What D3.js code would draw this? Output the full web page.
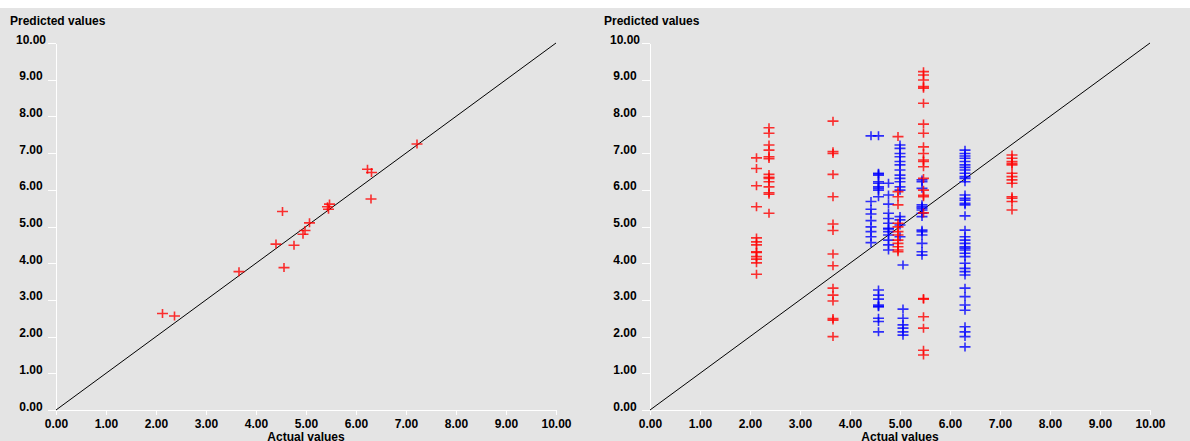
<!DOCTYPE html>
<html><head><meta charset="utf-8">
<script src="https://cdn.jsdelivr.net/npm/d3@7"></script>
<style>
html,body{margin:0;padding:0;background:#fff;}
svg{display:block;}
text{font-family:"Liberation Sans",Arial,sans-serif;font-weight:bold;font-size:12px;fill:#000;}
</style></head>
<body>
<svg id="c" width="1190" height="441"></svg>
<script>
// ---- data ----
const ticks = [0,1,2,3,4,5,6,7,8,9,10];
const tickLabels = ticks.map(t => t.toFixed(2));
const yTitle = "Predicted values";
const xTitle = "Actual values";

// Left panel: single series (actual, predicted)
const leftActual = [2.13, 2.37, 3.66, 4.40, 4.53, 4.56, 4.76, 4.94, 4.98, 5.07, 5.43, 5.47, 5.45, 6.23, 6.31, 6.30, 7.22];
const leftPred   = [2.63, 2.56, 3.77, 4.52, 5.41, 3.88, 4.49, 4.79, 4.89, 5.10, 5.54, 5.61, 5.47, 6.56, 6.47, 5.75, 7.25];

// Right panel: red series, grouped by actual value
const redActual = [2.13, 2.38, 3.66, 4.96, 5.47, 7.24];
const redPred = [
  [6.87, 6.58, 6.11, 5.54, 4.69, 4.58, 4.50, 4.31, 4.29, 4.18, 4.11, 4.01, 3.70],
  [7.69, 7.54, 7.22, 7.08, 6.90, 6.85, 6.42, 6.34, 6.31, 6.22, 6.08, 5.92, 5.88, 5.36],
  [7.87, 7.04, 6.99, 6.42, 5.81, 5.07, 4.89, 4.25, 3.93, 3.32, 3.13, 2.97, 2.49, 2.45, 2.00],
  [7.45, 5.95, 5.81, 5.59, 5.09, 4.99, 4.86, 4.77, 4.63, 4.54, 4.45, 4.36, 4.31],
  [9.22, 9.13, 8.99, 8.81, 8.77, 8.36, 7.79, 7.54, 7.17, 6.99, 6.81, 6.77, 6.63, 6.31, 5.99, 5.85, 5.81, 5.37, 3.04, 3.02, 2.54, 2.23, 1.63, 1.50],
  [6.95, 6.86, 6.77, 6.72, 6.68, 6.45, 6.36, 6.27, 6.18, 5.81, 5.77, 5.68, 5.45]
];

// Right panel: blue series, grouped by actual value
const blueActual = [4.42, 4.57, 4.77, 5.00, 5.06, 5.44, 6.30];
const bluePred = [
  [7.47, 5.68, 5.47, 5.34, 5.16, 4.99, 4.86, 4.72, 4.56],
  [7.47, 6.45, 6.43, 6.40, 6.22, 6.18, 6.08, 6.04, 5.99, 5.81, 3.27, 3.13, 3.02, 2.86, 2.83, 2.81, 2.50, 2.41, 2.13],
  [6.18, 5.86, 5.61, 5.36, 5.22, 5.09, 4.95, 4.93, 4.86, 4.77, 4.63, 4.50, 4.36],
  [7.22, 7.13, 6.99, 6.90, 6.77, 6.68, 6.54, 6.40, 6.31, 6.22, 6.08, 5.99, 5.27, 5.18, 5.04, 4.72],
  [3.95, 2.75, 2.50, 2.32, 2.23, 2.13, 2.04],
  [6.27, 6.22, 6.04, 5.59, 5.54, 5.50, 5.45, 5.36, 5.27, 4.90, 4.86, 4.77, 4.54, 4.31, 4.22],
  [7.08, 6.99, 6.92, 6.86, 6.77, 6.68, 6.61, 6.54, 6.45, 6.36, 6.31, 6.22, 5.86, 5.77, 5.72, 5.63, 5.59, 5.29, 4.90, 4.72, 4.63, 4.54, 4.45, 4.41, 4.36, 4.27, 4.18, 4.00, 3.86, 3.77, 3.68, 3.32, 3.09, 2.86, 2.72, 2.27, 2.13, 2.00, 1.72]
];

// ---- drawing ----
const svg = d3.select("#c");
svg.append("rect").attr("x",0).attr("y",8).attr("width",1190).attr("height",433).attr("fill","#e4e4e4");

const crossPath = "M-5.5,0H5.5M0,-4.5V4.5";

function panel(x0, series) {
  const x = d3.scaleLinear().domain([0,10]).range([x0, x0+500]);
  const y = d3.scaleLinear().domain([0,10]).range([410, 43]);
  const g = svg.append("g");

  const xAxis = d3.axisBottom(x).tickValues(ticks).tickFormat((d,i)=>tickLabels[i]).tickSize(5).tickSizeOuter(0).tickPadding(3);
  const yAxis = d3.axisLeft(y).tickValues(ticks).tickFormat((d,i)=>tickLabels[i]).tickSize(8).tickSizeOuter(0);

  const gx = g.append("g").attr("transform","translate(0,410)").call(xAxis);
  const gy = g.append("g").attr("transform",`translate(${x0},0)`).call(yAxis);
  [gx,gy].forEach(a=>{
    a.selectAll("path,line").attr("stroke","#fff").attr("stroke-width",1).attr("shape-rendering","crispEdges");
    a.selectAll("text").attr("font-family",null).attr("font-size",null).attr("fill","#000");
  });
  gx.selectAll("text").attr("dy",null).attr("y",18);
  gy.selectAll("text").attr("text-anchor","middle").attr("x",-25).attr("dy",null).attr("y",0);

  g.append("text").attr("x", x0-46).attr("y", 25).text(yTitle);
  g.append("text").attr("x", x(5)).attr("y", 441).attr("text-anchor","middle").text(xTitle);

  g.append("line").attr("x1",x(0)).attr("y1",y(0)).attr("x2",x(10)).attr("y2",y(10))
    .attr("stroke","#000").attr("stroke-width",1);

  series.forEach(s=>{
    g.append("g").selectAll("path").data(s.pts).join("path")
      .attr("d",crossPath)
      .attr("transform",d=>`translate(${x(d[0])},${y(d[1])})`)
      .attr("stroke",s.color).attr("stroke-width",1.6).attr("stroke-opacity",0.8).attr("fill","none");
  });
}

const leftPts = leftActual.map((a,i)=>[a,leftPred[i]]);
const redPts = redActual.flatMap((a,i)=>redPred[i].map(p=>[a,p]));
const bluePts = blueActual.flatMap((a,i)=>bluePred[i].map(p=>[a,p]));

panel(56, [{color:"#ff0000", pts:leftPts}]);
panel(650, [{color:"#0000ff", pts:bluePts},{color:"#ff0000", pts:redPts}]);
</script>
</body></html>
